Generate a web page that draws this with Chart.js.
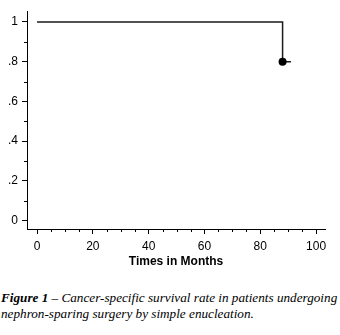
<!DOCTYPE html>
<html>
<head>
<meta charset="utf-8">
<script src="https://cdn.jsdelivr.net/npm/chart.js@4"></script>
<style>
  html, body { margin: 0; padding: 0; background: #fff; }
  #wrap { position: relative; width: 340px; height: 335px; }
  #plot { position: absolute; left: 0; top: 0; }
  #caption {
    position: absolute; left: 1px; top: 290px; width: 340px;
    font-family: "Liberation Serif", "Times New Roman", serif;
    font-style: italic; font-size: 13.2px; line-height: 16px; color: #000;
    white-space: nowrap;
  }
</style>
</head>
<body>
<div id="wrap">
  <canvas id="plot" width="340" height="270"></canvas>
  <div id="caption"><b>Figure 1</b> – Cancer-specific survival rate in patients undergoing<br>nephron-sparing surgery by simple enucleation.</div>
</div>
<script>
// Kaplan-Meier curve: one event at ~88 months, censored shortly after
const months = [0, 88, 91];
const survival = [1, 0.8, 0.8];
const markerSize = [0, 4, 0];

const xTicks = [0, 20, 40, 60, 80, 100];
const yTicks = [0, 0.2, 0.4, 0.6, 0.8, 1];
const xMinorTicks = [5, 10, 15, 25, 30, 35, 45, 50, 55, 65, 70, 75, 85, 90, 95];
const yMinorTicks = [0.1, 0.3, 0.5, 0.7, 0.9];

// short in-between tick marks, drawn from the scales
const minorTicks = {
  id: 'minorTicks',
  afterDraw(chart) {
    const { ctx, scales: { x, y } } = chart;
    ctx.save();
    ctx.strokeStyle = '#000';
    ctx.lineWidth = 1;
    ctx.beginPath();
    xMinorTicks.forEach(v => {
      const px = Math.round(x.getPixelForValue(v)) + 0.5;
      ctx.moveTo(px, y.bottom);
      ctx.lineTo(px, y.bottom + 3);
    });
    yMinorTicks.forEach(v => {
      const py = Math.round(y.getPixelForValue(v)) + 0.5;
      ctx.moveTo(x.left, py);
      ctx.lineTo(x.left - 3, py);
    });
    ctx.stroke();
    ctx.restore();
  }
};

const font = { family: "'Liberation Sans', Arial, sans-serif", size: 12 };

new Chart(document.getElementById('plot'), {
  type: 'line',
  data: {
    datasets: [{
      data: months.map((m, i) => ({ x: m, y: survival[i] })),
      stepped: 'before',
      borderColor: '#1a1a1a',
      borderWidth: 1.5,
      pointRadius: markerSize,
      pointBackgroundColor: '#000',
      pointBorderColor: '#000',
      pointBorderWidth: 0,
      fill: false
    }]
  },
  options: {
    responsive: false,
    animation: false,
    events: [],
    layout: { padding: { top: 5, right: 15, left: 0, bottom: 0 } },
    plugins: { legend: { display: false }, tooltip: { enabled: false } },
    scales: {
      x: {
        type: 'linear',
        bounds: 'data',
        min: -3.6,
        max: 103.2,
        afterBuildTicks(s) { s.ticks = xTicks.map(v => ({ value: v })); },
        afterFit(s) { s.height = 41; },
        border: { color: '#000', width: 1 },
        grid: { drawOnChartArea: false, drawTicks: true, tickLength: 5, color: '#000' },
        ticks: {
          autoSkip: false, maxRotation: 0,
          color: '#000', font, padding: 5
        },
        title: {
          display: true, text: 'Times in Months', color: '#000',
          font: { family: font.family, size: 12, weight: 'bold' },
          padding: { top: 0, bottom: 1 }
        }
      },
      y: {
        type: 'linear',
        bounds: 'data',
        min: -0.042,
        max: 1.054,
        afterBuildTicks(s) { s.ticks = yTicks.map(v => ({ value: v })); },
        afterFit(s) { s.width = 27; },
        border: { color: '#000', width: 1 },
        grid: { drawOnChartArea: false, drawTicks: true, tickLength: 5, color: '#000' },
        ticks: {
          autoSkip: false,
          color: '#000', font, padding: 4,
          callback: v => {
            const s = (Math.round(v * 10) / 10).toString();
            return s.startsWith('0.') ? s.slice(1) : s;
          }
        }
      }
    }
  },
  plugins: [minorTicks]
});
</script>
</body>
</html>
